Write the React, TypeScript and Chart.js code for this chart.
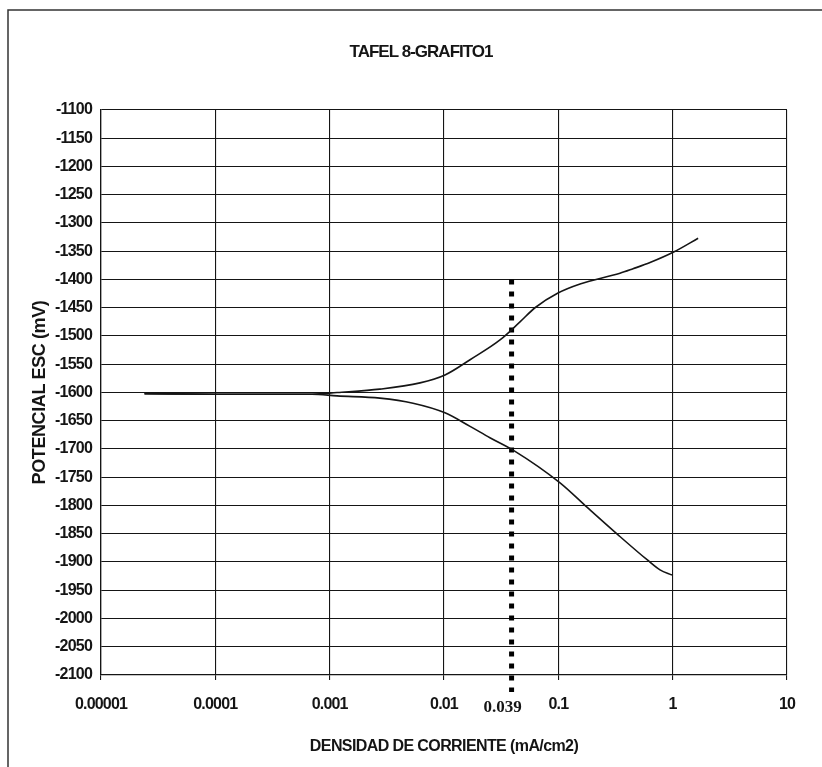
import { useEffect, useRef } from "react";
import { Chart, registerables } from "chart.js";

Chart.register(...registerables);

// Texts
const chartTitle = "TAFEL 8-GRAFITO1";
const xAxisTitle = "DENSIDAD DE CORRIENTE (mA/cm2)";
const yAxisTitle = "POTENCIAL ESC (mV)";

// Log axis decades and their labels
const xTickValues = [0.00001, 0.0001, 0.001, 0.01, 0.1, 1, 10];
const xTickLabels = ["0.00001", "0.0001", "0.001", "0.01", "0.1", "1", "10"];

// Potential axis range (mV)
const yMin = -2100;
const yMax = -1100;
const yStep = 50;

// Common start of the polarization curve (mA/cm2, mV)
const sharedCurrent = [0.000024, 0.0001, 0.0003, 0.0007];
const sharedPotential = [-1602, -1603, -1603, -1603];

// Anodic branch
const anodicCurrent = [0.00116, 0.00275, 0.00617, 0.0102, 0.0169, 0.0309, 0.0462, 0.0625, 0.0993, 0.155, 0.346, 0.45, 0.634, 1.03, 1.67];
const anodicPotential = [-1600, -1594, -1583, -1569, -1542, -1507, -1475, -1450, -1424, -1408, -1389, -1381, -1370, -1351, -1327];

// Cathodic branch
const cathodicCurrent = [0.00116, 0.00275, 0.00536, 0.0102, 0.0169, 0.0252, 0.0402, 0.1035, 0.178, 0.333, 0.597, 0.775, 0.986];
const cathodicPotential = [-1606, -1610, -1619, -1636, -1660, -1680, -1702, -1760, -1803, -1852, -1896, -1914, -1923];

// Corrosion current marker
const corrosionCurrent = 0.039;
const corrosionLabel = "0.039";
const markerPotential = [-1400, -2130];

const SANS = "'Liberation Sans', Arial, Helvetica, sans-serif";
const SERIF = "'Liberation Serif', 'Times New Roman', serif";
const INK = "#151515";

function toPoints(xs: number[], ys: number[]) {
  return xs.map((x, i) => ({ x, y: ys[i] }));
}

const decorPlugin = {
  id: "decor",
  beforeDraw(chart: any) {
    chart.ctx.letterSpacing = "-0.8px";
  },
  afterDraw(chart: any) {
    const { ctx, chartArea, scales } = chart;
    ctx.save();
    // outer frame (left and top)
    ctx.strokeStyle = "#333";
    ctx.lineWidth = 1.5;
    ctx.beginPath();
    ctx.moveTo(8, 767);
    ctx.lineTo(8, 10);
    ctx.lineTo(822, 10);
    ctx.stroke();

    ctx.fillStyle = INK;
    ctx.textAlign = "center";
    ctx.textBaseline = "middle";

    ctx.letterSpacing = "-1px";
    ctx.font = `bold 17px ${SANS}`;
    ctx.fillText(chartTitle, 421, 52);

    ctx.letterSpacing = "-0.6px";
    ctx.font = `bold 16px ${SANS}`;
    ctx.fillText(xAxisTitle, (chartArea.left + chartArea.right) / 2, 747);

    ctx.save();
    ctx.translate(40, (chartArea.top + chartArea.bottom) / 2);
    ctx.rotate(-Math.PI / 2);
    ctx.letterSpacing = "-0.4px";
    ctx.font = `bold 18px ${SANS}`;
    ctx.fillText(yAxisTitle, 0, 0);
    ctx.restore();

    ctx.letterSpacing = "0px";
    ctx.font = `bold 17px ${SERIF}`;
    ctx.fillText(corrosionLabel, scales.x.getPixelForValue(corrosionCurrent) - 9, 708);
    ctx.restore();
  },
};

export default function App() {
  const canvasRef = useRef<HTMLCanvasElement | null>(null);

  useEffect(() => {
    const canvas = canvasRef.current;
    if (!canvas) return;

    const curveStyle = {
      borderColor: INK,
      borderWidth: 1.6,
      pointRadius: 0,
      cubicInterpolationMode: "monotone",
      fill: false,
    };

    const chart = new Chart(canvas, {
      type: "line",
      data: {
        datasets: [
          {
            label: "anodic",
            data: toPoints([...sharedCurrent, ...anodicCurrent], [...sharedPotential, ...anodicPotential]),
            ...curveStyle,
          },
          {
            label: "cathodic",
            data: toPoints([...sharedCurrent, ...cathodicCurrent], [...sharedPotential, ...cathodicPotential]),
            ...curveStyle,
          },
          {
            label: "icorr",
            data: markerPotential.map((y) => ({ x: corrosionCurrent, y })),
            borderColor: "#000",
            borderWidth: 5,
            borderDash: [5, 7],
            borderCapStyle: "butt",
            pointRadius: 0,
            fill: false,
            clip: false as any,
          },
        ],
      },
      options: {
        responsive: false,
        animation: false,
        layout: { padding: { top: 110, right: 35, left: 0, bottom: 0 } },
        plugins: {
          legend: { display: false },
          title: { display: false },
          tooltip: { enabled: false },
        },
        scales: {
          x: {
            type: "logarithmic",
            min: xTickValues[0],
            max: xTickValues[xTickValues.length - 1],
            afterBuildTicks(scale: any) {
              scale.ticks = xTickValues.map((v) => ({ value: v, major: true }));
            },
            afterFit(scale: any) {
              scale.height = 92;
            },
            border: { display: true, color: INK, width: 1.3 },
            grid: { color: INK, lineWidth: 1.1, drawTicks: true, tickLength: 5, tickColor: INK },
            ticks: {
              autoSkip: false,
              maxRotation: 0,
              padding: 15,
              color: INK,
              font: { family: SANS, size: 16, weight: "bold" },
              callback(value: any, index: number) {
                return xTickLabels[index];
              },
            },
          },
          y: {
            type: "linear",
            min: yMin,
            max: yMax,
            afterFit(scale: any) {
              scale.width = 101;
            },
            border: { display: true, color: INK, width: 1.3 },
            grid: { color: INK, lineWidth: 1.1, drawTicks: false },
            ticks: {
              stepSize: yStep,
              autoSkip: false,
              padding: 9,
              color: INK,
              font: { family: SANS, size: 16, weight: "bold" },
              callback(value: any) {
                return String(value);
              },
            },
          },
        },
      },
      plugins: [decorPlugin],
    } as any);

    return () => chart.destroy();
  }, []);

  return (
    <div style={{ position: "fixed", left: 0, top: 0, width: 822, height: 767, background: "#fff" }}>
      <canvas ref={canvasRef} width={822} height={767} />
    </div>
  );
}
